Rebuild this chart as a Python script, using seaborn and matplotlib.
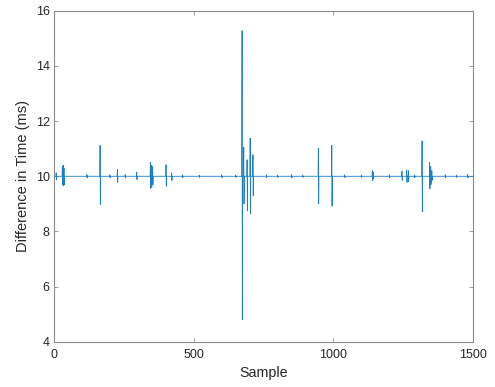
import numpy as np
import pandas as pd
import matplotlib
matplotlib.use("Agg")
import matplotlib.pyplot as plt
import seaborn as sns

# ── Data ─────────────────────────────────────────────────────────────────────
N_SAMPLES = 1500
BASELINE = 10.0   # nominal period (ms)

# samples that deviate from the 10 ms baseline, and their values
SPIKE_SAMPLES = [
    8, 9, 30, 31, 33, 34, 36, 37, 118, 119, 165, 166, 200, 201, 227, 228,
    255, 256, 296, 297, 345, 346, 349, 350, 353, 354, 401, 402, 421, 422,
    460, 461, 520, 521, 600, 601, 650, 651,
    673, 674, 679, 680, 691, 692, 702, 703, 712, 713,
    760, 761, 800, 801, 850, 851, 890, 891, 946, 947, 994, 995,
    1040, 1041, 1100, 1101, 1139, 1140, 1142, 1143, 1200, 1201,
    1245, 1246, 1262, 1263, 1268, 1269, 1290, 1291, 1317, 1318,
    1344, 1345, 1348, 1349, 1352, 1353, 1400, 1401, 1440, 1441, 1480, 1481,
]
SPIKE_VALUES = [
    10.12, 9.88, 10.35, 9.70, 10.40, 9.65, 10.30, 9.70, 10.06, 9.94, 11.12, 8.98, 10.05, 9.95, 10.25, 9.78,
    10.06, 9.94, 10.15, 9.88, 10.50, 9.56, 10.40, 9.60, 10.35, 9.70, 10.42, 9.64, 10.12, 9.85,
    10.05, 9.95, 10.04, 9.96, 10.05, 9.95, 10.04, 9.96,
    15.28, 4.80, 11.05, 9.00, 10.60, 8.75, 11.38, 8.65, 10.78, 9.30,
    10.05, 9.95, 10.04, 9.96, 10.06, 9.94, 10.04, 9.96, 11.02, 9.00, 11.12, 8.92,
    10.05, 9.95, 10.04, 9.96, 10.20, 9.85, 10.15, 9.90, 10.05, 9.95,
    10.18, 9.85, 10.22, 9.78, 10.20, 9.80, 10.05, 9.95, 11.28, 8.72,
    10.50, 9.55, 10.35, 9.70, 10.20, 9.85, 10.05, 9.95, 10.04, 9.96, 10.06, 9.94,
]

X_TICKS = [0, 500, 1000, 1500]
Y_TICKS = [4, 6, 8, 10, 12, 14, 16]

# ── Build series ─────────────────────────────────────────────────────────────
diff = np.full(N_SAMPLES, BASELINE)
diff[np.array(SPIKE_SAMPLES) - 1] = SPIKE_VALUES
df = pd.DataFrame({"Sample": np.arange(1, N_SAMPLES + 1), "Diff": diff})

# ── Plot ─────────────────────────────────────────────────────────────────────
sns.set_style("white")
plt.rcParams["font.family"] = ["Liberation Sans", "DejaVu Sans"]

fig = plt.figure(figsize=(4.95, 3.87), dpi=100)
ax = fig.add_axes([0.109, 0.117, 0.847, 0.855])

sns.lineplot(data=df, x="Sample", y="Diff", ax=ax, color="#1a7fc4",
             linewidth=0.6, estimator=None, sort=False)

ax.set_xlim(0, 1500)
ax.set_ylim(4, 16)
ax.set_xticks(X_TICKS)
ax.set_yticks(Y_TICKS)
ax.set_xlabel("Sample", fontsize=10.3, color="#262626", labelpad=4)
ax.set_ylabel("Difference in Time (ms)", fontsize=10.5, color="#262626", labelpad=4)

for side in ["left", "right", "top", "bottom"]:
    ax.spines[side].set_visible(True)
    ax.spines[side].set_color("#8a8a8a")
    ax.spines[side].set_linewidth(0.8)
ax.tick_params(direction="in", length=3, width=0.6, colors="#8a8a8a",
               labelcolor="#262626", labelsize=9, top=True, right=True,
               bottom=True, left=True)
ax.tick_params(axis="x", pad=5)
ax.tick_params(axis="y", pad=3)

fig.savefig("out.png", dpi=100)
